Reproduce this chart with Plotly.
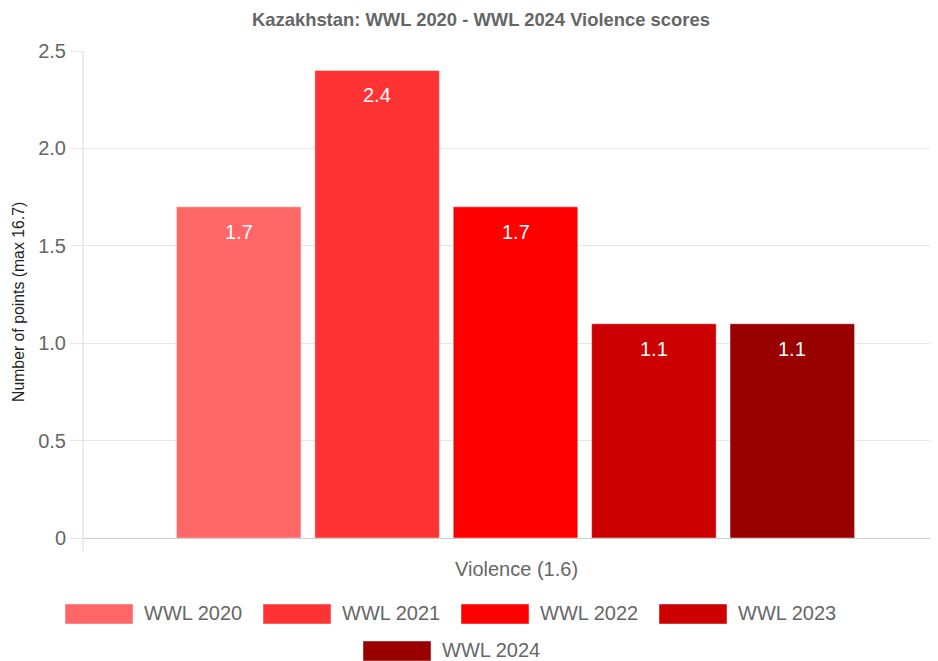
import plotly.graph_objects as go

# ---- data ----
categories = ["Violence (1.6)"]
series_names = ["WWL 2020", "WWL 2021", "WWL 2022", "WWL 2023", "WWL 2024"]
series_values = [1.7, 2.4, 1.7, 1.1, 1.1]
series_colors = ["#ff6666", "#ff3333", "#ff0000", "#cc0000", "#990000"]
y_ticks = [0, 0.5, 1.0, 1.5, 2.0, 2.5]
y_tick_labels = ["0", "0.5", "1.0", "1.5", "2.0", "2.5"]

OFF = 8  # page body margin
W, H = 938 - OFF, 661 - OFF
L, R, T, B = 83 - OFF, 938 - OFF, 51 - OFF, 538 - OFF  # plot area in figure pixels
FONT = "Liberation Sans, Arial, Helvetica, sans-serif"
GREY = "#666666"

BARGAP = 0.2
BARGROUPGAP = 0.1

fig = go.Figure()
for name, val, col in zip(series_names, series_values, series_colors):
    fig.add_trace(go.Bar(
        x=categories, y=[val], name=name,
        marker=dict(color=col, line=dict(color="rgba(255,255,255,0.45)", width=1)),
        showlegend=False, hoverinfo="skip",
    ))

# value labels inside bars, positioned from the group layout
n = len(series_names)
slot = (1 - BARGAP) / n
for i, val in enumerate(series_values):
    xc = -(1 - BARGAP) / 2 + slot * (i + 0.5)
    fig.add_annotation(x=xc, y=val, xref="x", yref="y", text=f"{val:.1f}",
                       showarrow=False, yshift=-25,
                       font=dict(family=FONT, size=20, color="white"))

# helpers: reference-screenshot pixel -> paper coords
def px(x):
    return (x - OFF - L) / (R - L)

def py(y):
    return (B - (y - OFF)) / (B - T)

# custom legend (wide swatches like the original)
legend_rows = [614, 614, 614, 614, 651]
legend_x = [65, 263, 461, 659, 363]
for yc, x0, name, col in zip(legend_rows, legend_x, series_names, series_colors):
    fig.add_shape(type="rect", xref="paper", yref="paper",
                  x0=px(x0), x1=px(x0 + 68), y0=py(yc + 10), y1=py(yc - 10),
                  fillcolor=col, line=dict(color="rgba(255,255,255,0.45)", width=1))
    fig.add_annotation(xref="paper", yref="paper", x=px(x0 + 77), y=py(yc - 1),
                       xanchor="left", yanchor="middle", showarrow=False, text=name,
                       font=dict(family=FONT, size=20, color=GREY))

# y-axis line extending below the plot (tick)
fig.add_shape(type="line", xref="paper", yref="paper", x0=0, x1=0,
              y0=py(551), y1=1, line=dict(color="#d9d9d9", width=1))

# title
fig.add_annotation(xref="paper", yref="paper", x=px(481), y=py(20),
                   xanchor="center", yanchor="middle", showarrow=False,
                   text="<b>Kazakhstan: WWL 2020 - WWL 2024 Violence scores</b>",
                   font=dict(family=FONT, size=18.4, color=GREY))
# y title
fig.add_annotation(xref="paper", yref="paper", x=px(18), y=py(302),
                   xanchor="center", yanchor="middle", showarrow=False, textangle=-90,
                   text="Number of points (max 16.7)",
                   font=dict(family=FONT, size=15.8, color="#222222"))
# x label
fig.add_annotation(xref="paper", yref="paper", x=px(517), y=py(569),
                   xanchor="center", yanchor="middle", showarrow=False,
                   text=categories[0],
                   font=dict(family=FONT, size=20, color=GREY))

# original chart area was 865px wide (partly cropped); keep the same scale
span = (R - L) / 865.0
fig.update_layout(
    width=W, height=H,
    margin=dict(l=L, r=W - R, t=T, b=H - B, pad=0),
    paper_bgcolor="white", plot_bgcolor="white",
    barmode="group", bargap=BARGAP, bargroupgap=BARGROUPGAP,
    font=dict(family=FONT, size=20, color=GREY),
    xaxis=dict(range=[-0.5, -0.5 + span], showticklabels=False, showgrid=False,
               zeroline=False, showline=False, ticks=""),
    yaxis=dict(range=[0, 2.5], tickmode="array", tickvals=y_ticks, ticktext=y_tick_labels,
               showgrid=True, gridcolor="#e6e6e6", gridwidth=1,
               zeroline=True, zerolinecolor="#cccccc", zerolinewidth=1,
               showline=False, ticks="outside", ticklen=12, tickcolor="#e6e6e6",
               tickfont=dict(family=FONT, size=20, color=GREY)),
    showlegend=False,
)

fig.write_html("out.html")
